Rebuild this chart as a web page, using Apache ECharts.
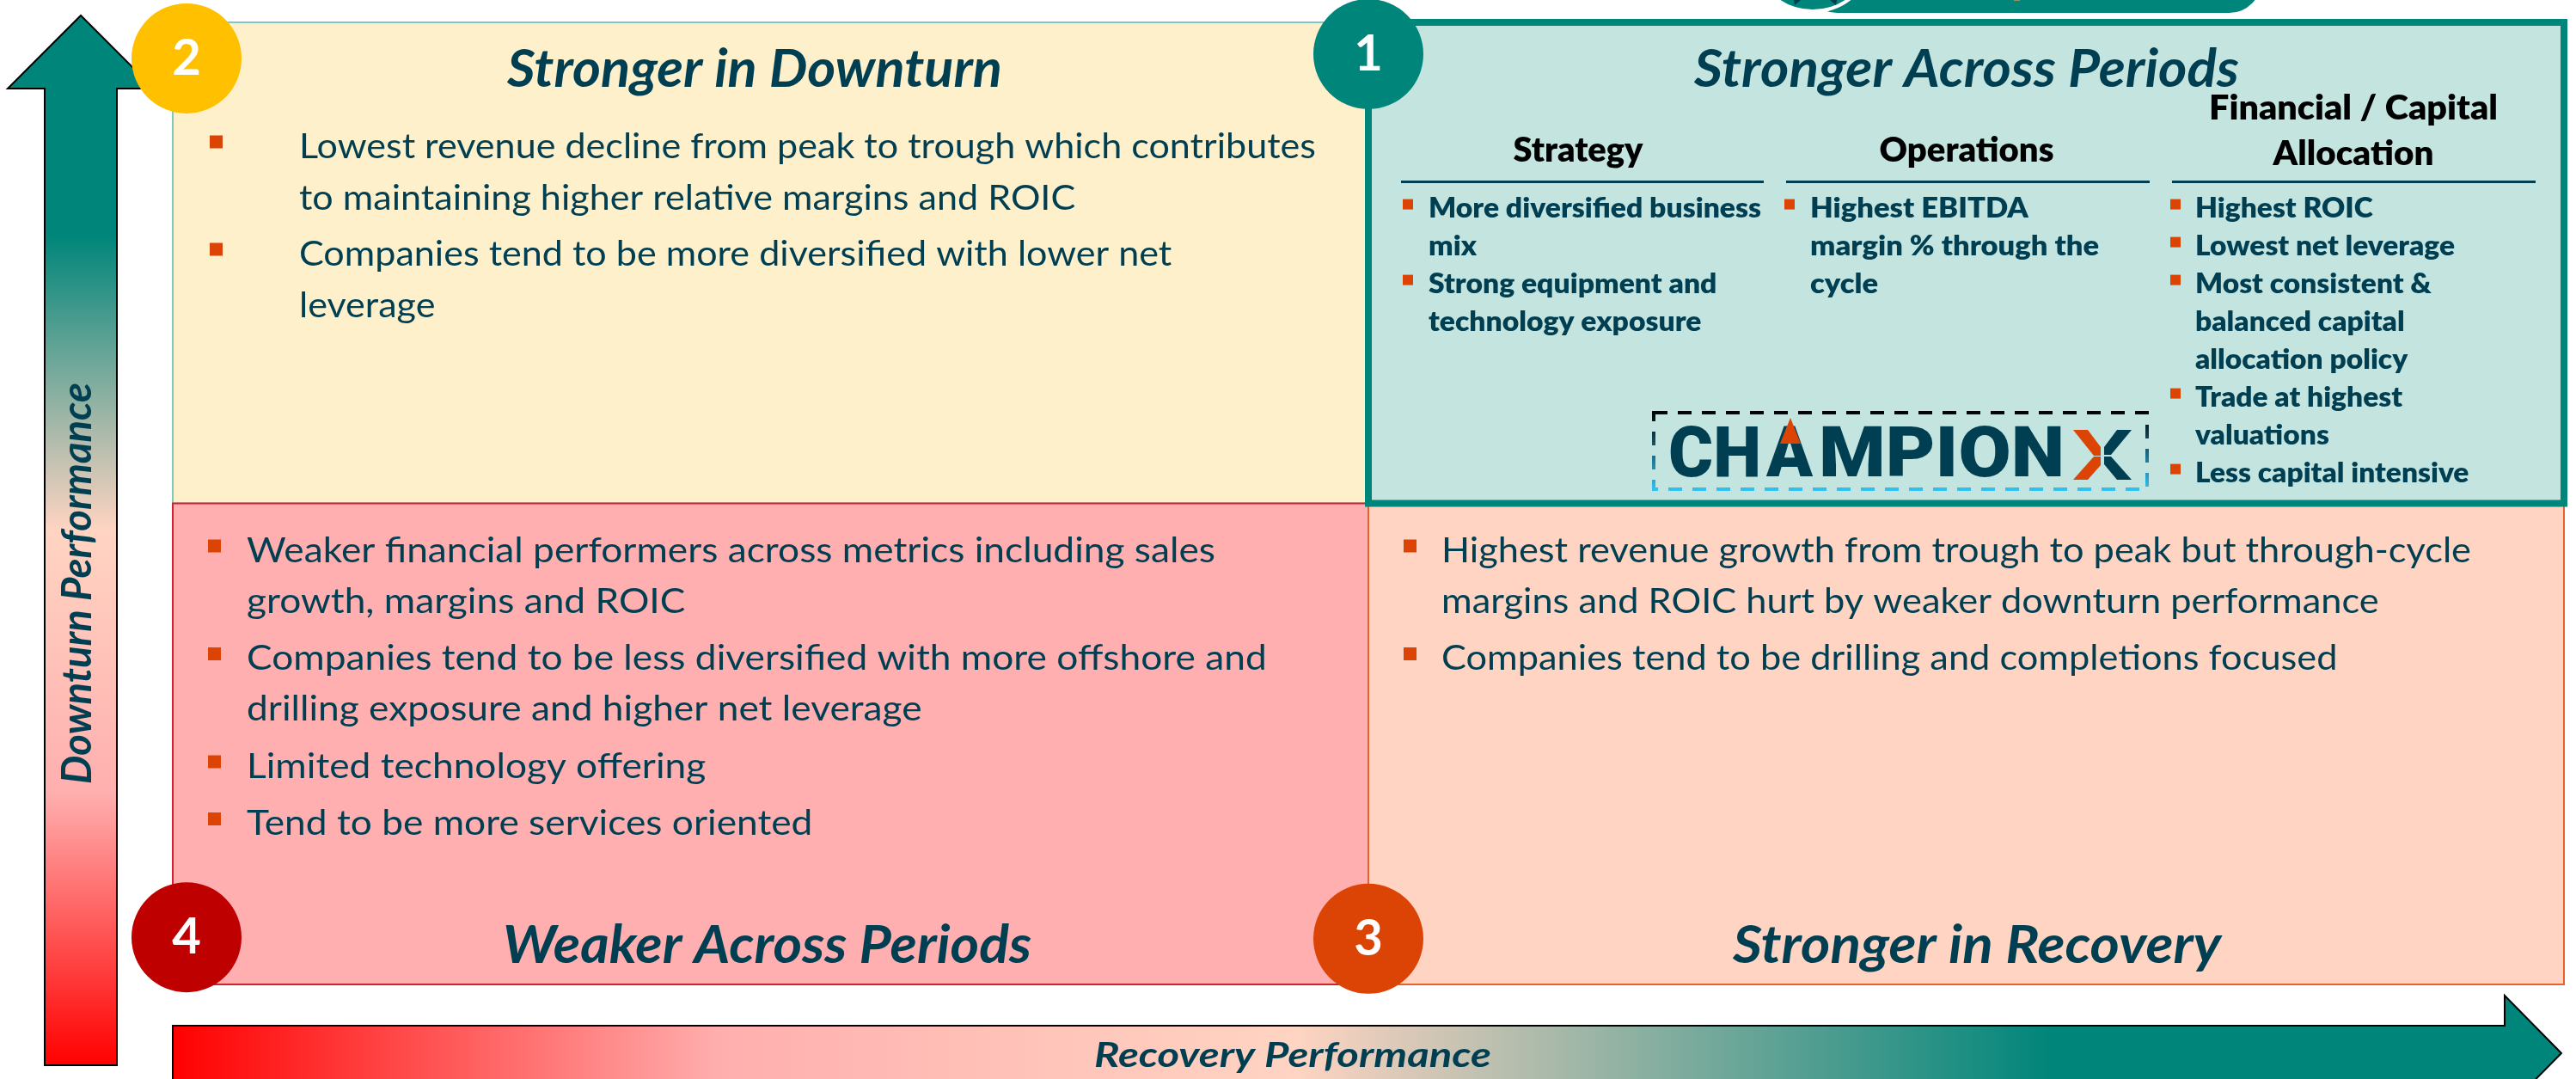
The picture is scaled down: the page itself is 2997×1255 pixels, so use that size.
<!DOCTYPE html>
<html>
<head>
<meta charset="utf-8">
<title>Downturn and recovery performance</title>
<style>
html,body{margin:0;padding:0;background:#fff}
#main{width:2997px;height:1255px}
</style>
<script src="https://cdn.jsdelivr.net/npm/echarts@6/dist/echarts.min.js"></script>
</head>
<body>
<div id="main"></div>
<script>
// quadrants, drawn in this order so that 1 ends up on top
var quadrantX = [0, 0, 1, 1];
var quadrantY = [1, 0, 0, 1];
var quadrantFill = ['#FFF0CC', '#FFAFAF', '#FFD4C2', '#C4E4DF'];
var quadrantBorder = ['#7FC8BD', '#D0212F', '#E8622A', '#00857A'];
var quadrantBorderWidth = [2, 2, 2, 8];

// numbered badges
var badgeLabels = ['2', '4', '3', '1'];
var badgeX = [0.0115, 0.0115, 1, 1];
var badgeY = [1.925, 0.098, 0.095, 1.934];
var badgeColors = ['#FFC000', '#BE0000', '#DC4405', '#00857A'];

var titleTexts = ['Stronger in Downturn', 'Weaker Across Periods', 'Stronger in Recovery', 'Stronger Across Periods'];
var axisTexts = ['Downturn Performance', 'Recovery Performance'];
var columnHeads = ['Strategy', 'Operations', 'Financial / Capital', 'Allocation'];

var q2Bullets = [
    ['Lowest revenue decline from peak to trough which contributes', 'to maintaining higher relative margins and ROIC'],
    ['Companies tend to be more diversified with lower net', 'leverage']
];
var q4Bullets = [
    ['Weaker financial performers across metrics including sales', 'growth, margins and ROIC'],
    ['Companies tend to be less diversified with more offshore and', 'drilling exposure and higher net leverage'],
    ['Limited technology offering'],
    ['Tend to be more services oriented']
];
var q3Bullets = [
    ['Highest revenue growth from trough to peak but through-cycle', 'margins and ROIC hurt by weaker downturn performance'],
    ['Companies tend to be drilling and completions focused']
];
var strategyBullets = [
    ['More diversified business', 'mix'],
    ['Strong equipment and', 'technology exposure']
];
var operationsBullets = [
    ['Highest EBITDA', 'margin % through the', 'cycle']
];
var financialBullets = [
    ['Highest ROIC'],
    ['Lowest net leverage'],
    ['Most consistent &', 'balanced capital', 'allocation policy'],
    ['Trade at highest', 'valuations'],
    ['Less capital intensive']
];

var TEAL = '#00857A', NAVY = '#003E52', ORANGE = '#DC4405';
var measureCtx = document.createElement('canvas').getContext('2d');
var els = [];

function fontOf(size, weight, family) {
    return weight + ' ' + size + 'px ' + (family || 'Lato') + ', sans-serif';
}

function fit(str, font, w) {
    measureCtx.font = font;
    return w / measureCtx.measureText(str).width;
}

// y is the baseline, canvas middle sits about .3em above it
function txt(str, x, y, font, size, fill, sx, align, rot) {
    var el = {
        type: 'text', z: 8,
        x: rot ? x - size * 0.3 : x,
        y: rot ? y : y - size * 0.3,
        scaleX: sx || 1,
        style: {text: str, font: font, fill: fill, align: align || 'left', verticalAlign: 'middle'}
    };
    if (rot) el.rotation = rot;
    els.push(el);
}

function fitTxt(str, x, y, w, size, weight, fill, rot, family) {
    var font = fontOf(size, weight, family);
    txt(str, x, y, font, size, fill, fit(str, font, w), 'left', rot);
}

function head(str, cx, y, w) {
    var font = fontOf(40, 800);
    txt(str, cx, y, font, 40, '#000', fit(str, font, w), 'center');
}

function box(x, y, w, h, fill) {
    els.push({type: 'rect', z: 7, shape: {x: x, y: y, width: w, height: h}, style: {fill: fill}});
}

function poly(points, fill, z) {
    els.push({type: 'polygon', z: z || 7, shape: {points: points}, style: {fill: fill}});
}

function bullets(list, textX, bulletX, y0, lineGap, blockGap, size, weight, refLine, refWidth, bs) {
    var font = fontOf(size, weight);
    var sx = fit(refLine, font, refWidth);
    var y = y0;
    list.forEach(function (lines) {
        box(bulletX, y - bs * 1.7, bs, bs, ORANGE);
        lines.forEach(function (line, i) {
            if (i > 0) y += lineGap;
            txt(line, textX, y, font, size, NAVY, sx);
        });
        y += blockGap;
    });
}

function arrows() {
    // downturn arrow
    els.push({
        type: 'polygon', z: 1,
        shape: {points: [[94, 18], [179, 103], [136, 103], [136, 1239], [52, 1239], [52, 103], [9, 103]]},
        style: {
            stroke: '#000', lineWidth: 2,
            fill: new echarts.graphic.LinearGradient(0, 0, 0, 1, [
                {offset: 0, color: TEAL}, {offset: 0.21, color: TEAL},
                {offset: 0.49, color: '#FFD4C2'}, {offset: 0.74, color: '#FFAFAF'},
                {offset: 1, color: '#FF0000'}
            ])
        }
    });
    // recovery arrow, its lower half runs off the page
    els.push({
        type: 'polygon', z: 1,
        shape: {points: [[201, 1193], [2914, 1193], [2914, 1158], [2980, 1225], [2914, 1292], [2914, 1260], [201, 1260]]},
        style: {
            stroke: '#000', lineWidth: 2,
            fill: new echarts.graphic.LinearGradient(0, 0, 1, 0, [
                {offset: 0, color: '#FF0000'}, {offset: 0.23, color: '#FFAFAF'},
                {offset: 0.47, color: '#FFD4C2'}, {offset: 0.787, color: TEAL},
                {offset: 1, color: TEAL}
            ])
        }
    });
}

function topBanner() {
    els.push({type: 'rect', z: 1, shape: {x: 2100, y: -60, width: 531, height: 75, r: 50}, style: {fill: TEAL}});
    els.push({type: 'circle', z: 2, shape: {cx: 2109, cy: -58, r: 71}, style: {fill: TEAL, stroke: '#fff', lineWidth: 4}});
    poly([[2087, 0], [2095, 0], [2088, 6]], NAVY, 3);
    poly([[2129, 0], [2137, 0], [2136, 6]], NAVY, 3);
    box(2343, 0, 7, 1, '#A08F5E');
}

function logo() {
    els.push({
        type: 'rect', z: 7,
        shape: {x: 1924, y: 480, width: 574, height: 89},
        style: {
            fill: 'none', lineWidth: 4, lineDash: [16, 12],
            stroke: new echarts.graphic.LinearGradient(0, 0, 0, 1, [
                {offset: 0, color: '#000'}, {offset: 1, color: '#33C5F5'}
            ])
        }
    });
    var base = 558;
    fitTxt('CH', 1941, base, 108, 81, 900, NAVY, 0, 'Roboto');
    fitTxt('A', 2055, base, 54, 81, 900, NAVY, 0, 'Roboto');
    fitTxt('MPION', 2116, base, 286, 81, 900, NAVY, 0, 'Roboto');
    // orange cap of the A
    box(2055, 495, 54, 24, '#C4E4DF');
    poly([[2083, 486], [2071, 516], [2095, 516]], ORANGE, 9);
    // the X
    poly([[2412, 500], [2429, 500], [2444, 520], [2444, 530], [2436, 530]], ORANGE, 9);
    poly([[2436, 531], [2444, 531], [2444, 541], [2429, 558], [2412, 558]], ORANGE, 9);
    poly([[2480, 500], [2463, 500], [2448, 520], [2448, 529], [2456, 529]], NAVY, 9);
    poly([[2448, 531], [2456, 531], [2480, 558], [2463, 558], [2448, 540]], NAVY, 9);
}

function buildGraphic() {
    arrows();
    topBanner();

    fitTxt(titleTexts[0], 590, 100, 576, 62, 'italic 700', NAVY);
    fitTxt(titleTexts[1], 585, 1119, 615, 62, 'italic 700', NAVY);
    fitTxt(titleTexts[2], 2016, 1119, 568, 62, 'italic 700', NAVY);
    fitTxt(titleTexts[3], 1971, 100, 634, 62, 'italic 700', NAVY);

    fitTxt(axisTexts[0], 105, 912, 467, 48, 'italic 700', NAVY, Math.PI / 2);
    fitTxt(axisTexts[1], 1273, 1240, 462, 40, 'italic 700', NAVY);

    bullets(q2Bullets, 348, 244, 183, 60, 65, 40, 400, q2Bullets[0][0], 1183, 15);
    bullets(q4Bullets, 287, 242, 653, 59, 66.5, 40, 400, q4Bullets[0][0], 1127, 15);
    bullets(q3Bullets, 1677, 1633, 653, 59, 66.5, 40, 400, q3Bullets[0][0], 1198, 15);

    // column heads of quadrant 1
    head(columnHeads[0], 1836, 187, 151);
    head(columnHeads[1], 2288, 187, 203);
    head(columnHeads[2], 2738, 138, 336);
    head(columnHeads[3], 2738, 191, 187);
    box(1630, 210, 422, 3, NAVY);
    box(2078, 210, 423, 3, NAVY);
    box(2527, 210, 423, 3, NAVY);

    bullets(strategyBullets, 1662, 1632, 252, 44, 44, 32, 800, strategyBullets[0][0], 387, 12);
    bullets(operationsBullets, 2106, 2076, 252, 44, 44, 32, 800, operationsBullets[0][1], 336, 12);
    bullets(financialBullets, 2554, 2525, 252, 44, 44, 32, 800, financialBullets[1][0], 302, 12);

    logo();
    return els;
}

function renderQuadrant(params, api) {
    var i = params.dataIndex;
    var p0 = api.coord([api.value(0), api.value(1) + 1]);
    var p1 = api.coord([api.value(0) + 1, api.value(1)]);
    return {
        type: 'rect',
        shape: {x: p0[0], y: p0[1], width: p1[0] - p0[0], height: p1[1] - p0[1]},
        style: {fill: quadrantFill[i], stroke: quadrantBorder[i], lineWidth: quadrantBorderWidth[i]}
    };
}

var myChart = echarts.init(document.getElementById('main'));
var option = {
    animation: false,
    backgroundColor: '#fff',
    grid: {left: 201, right: 14, top: 26, bottom: 110},
    xAxis: {type: 'value', min: 0, max: 2, show: false},
    yAxis: {type: 'value', min: 0, max: 2, show: false},
    graphic: {elements: buildGraphic()},
    series: [{
        type: 'custom',
        z: 3,
        renderItem: renderQuadrant,
        data: quadrantX.map(function (x, i) { return [x, quadrantY[i]]; })
    }, {
        type: 'scatter',
        z: 6,
        symbol: 'circle',
        symbolSize: 128,
        label: {
            show: true,
            position: 'inside',
            color: '#fff',
            fontFamily: 'Lato',
            fontWeight: 700,
            fontSize: 58,
            formatter: function (p) { return badgeLabels[p.dataIndex]; }
        },
        itemStyle: {
            opacity: 1,
            color: function (p) { return badgeColors[p.dataIndex]; }
        },
        data: badgeX.map(function (x, i) { return [x, badgeY[i]]; })
    }]
};
myChart.setOption(option);
window.addEventListener('resize', function () {
    myChart.resize();
});
</script>
</body>
</html>
